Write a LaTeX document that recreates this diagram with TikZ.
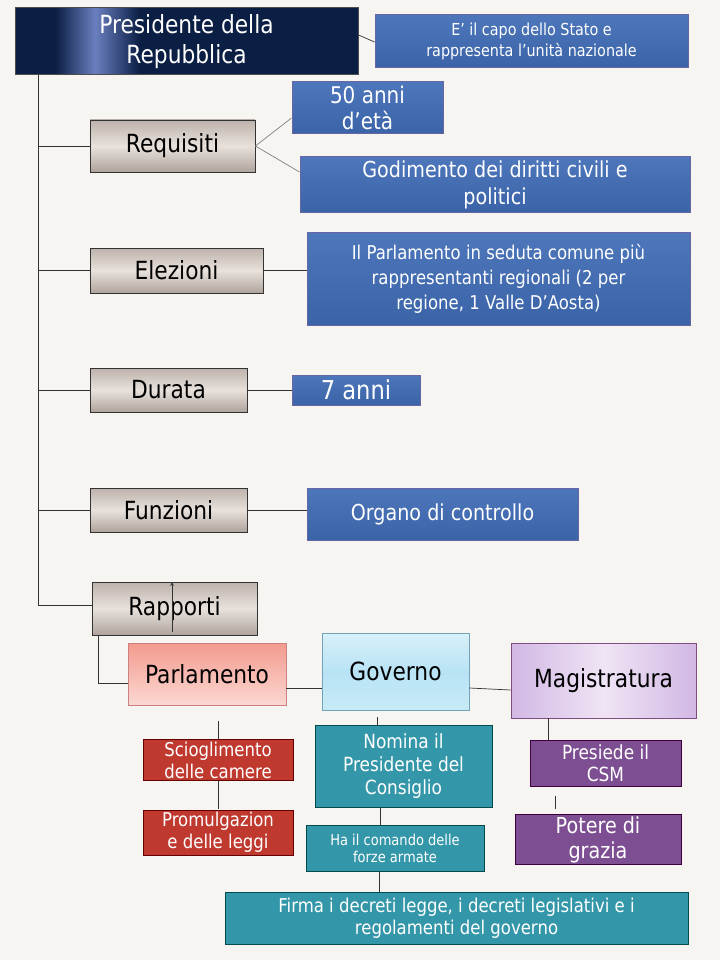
\documentclass[tikz,border=0pt]{standalone}
\usepackage{fontspec}
\setmainfont{DejaVu Sans}[FakeStretch=0.87]
\begin{document}
\begin{tikzpicture}[x=1pt,y=-1pt,
  bx/.style={draw, rectangle, align=center, inner sep=2pt},
  blue/.style={bx, draw=black!60!blue!60, line width=1pt, top color=bluetop, bottom color=bluebot, text=white},
  gray/.style={bx, draw=black!80, line width=0.8pt, top color=graytop, bottom color=graybot, middle color=graymid, text=black, font=\fontsize{25}{29}\selectfont},
  red/.style={bx, draw=red!40!black, line width=1pt, fill=redf, text=white, font=\fontsize{19}{22}\selectfont},
  teal/.style={bx, draw=teal!60!black, line width=1pt, fill=tealf, text=white},
  purp/.style={bx, draw=violet!50!black, line width=1pt, fill=purpf, text=white, font=\fontsize{19.5}{22}\selectfont},
  ln/.style={draw=black!80, line width=0.7pt}]
\definecolor{bluetop}{HTML}{4D76BB}\definecolor{bluebot}{HTML}{3A63A8}
\definecolor{graytop}{HTML}{BDB2AB}\definecolor{graymid}{HTML}{E8E1DC}\definecolor{graybot}{HTML}{AFA49C}
\definecolor{redf}{HTML}{C0392F}\definecolor{tealf}{HTML}{3497A9}\definecolor{purpf}{HTML}{7D4E92}
\definecolor{navy}{HTML}{0B1E44}\definecolor{navymid}{HTML}{6A7FC0}
\definecolor{partop}{HTML}{F39A8E}\definecolor{parbot}{HTML}{FBD8D2}
\definecolor{govtop}{HTML}{D8F0FA}\definecolor{govmid}{HTML}{B8E3F5}\definecolor{govbot}{HTML}{C8EAF7}
\definecolor{magside}{HTML}{D2B8E4}\definecolor{magmid}{HTML}{EFE4F5}
\fill[fill={rgb,255:red,247;green,245;blue,242}] (0,0) rectangle (720,960);
\useasboundingbox (0,0) rectangle (720,960);

\fill[navy] (15,8) rectangle (358,75);
\shade[left color=navy, right color=navymid] (55,8) rectangle (95,75);
\shade[left color=navymid, right color=navy] (95,8) rectangle (140,75);
\node[bx, draw=black!70, line width=1pt, text=white, minimum width=343, minimum height=67, font=\fontsize{25}{30}\selectfont] (pres) at (186.5,41.5) {Presidente della\\Repubblica};
\node[blue, minimum width=313, minimum height=53, font=\fontsize{16.5}{21}\selectfont] (capo) at (531.5,41.5) {E’ il capo dello Stato e\\rappresenta l’unità nazionale};
\draw[ln] (pres.east |- 0,35) -- (capo.west |- 0,42);

\node[gray, minimum width=165, minimum height=52] (req) at (172.5,146) {Requisiti};
\node[blue, minimum width=151, minimum height=52, font=\fontsize{23}{26}\selectfont] (eta) at (367.5,108) {50 anni\\d’età};
\node[blue, minimum width=390, minimum height=55, font=\fontsize{22}{27}\selectfont] (god) at (495,184.5) {Godimento dei diritti civili e\\politici};
\draw[draw=gray, line width=0.7pt] (req.east) -- (eta.west |- 0,118);
\draw[draw=gray, line width=0.7pt] (req.east) -- (god.west |- 0,172);

\node[gray, minimum width=173, minimum height=45] (ele) at (176.5,270.5) {Elezioni};
\node[blue, minimum width=383, minimum height=93, font=\fontsize{19}{25}\selectfont] (parl1) at (498.5,278.5) {Il Parlamento in seduta comune più\\rappresentanti regionali (2 per\\regione, 1 Valle D’Aosta)};
\draw[ln] (ele.east) -- (parl1.west |- ele.east);

\node[gray, minimum width=157, minimum height=44] (dur) at (168.5,390) {Durata};
\node[blue, minimum width=128, minimum height=30, font=\fontsize{26}{28}\selectfont] (sette) at (356,390) {7 anni};
\draw[ln] (dur.east) -- (sette.west);

\node[gray, minimum width=157, minimum height=44] (fun) at (168.5,510) {Funzioni};
\node[blue, minimum width=271, minimum height=52, font=\fontsize{22}{26}\selectfont] (org) at (442.5,514) {Organo di controllo};
\draw[ln] (fun.east) -- (org.west |- fun.east);

\node[gray, minimum width=165, minimum height=53] (rap) at (174.5,608.5) {Rapporti};
\draw[ln, ->, >=stealth] (172,632) -- (172,582);

\draw[ln] (pres.south -| 38,0) -- (38,605) -- (rap.west |- 0,605);
\draw[ln] (38,146) -- (req.west);
\draw[ln] (38,270.5) -- (ele.west);
\draw[ln] (38,390) -- (dur.west);
\draw[ln] (38,510) -- (fun.west);

\node[bx, draw=red!60!black!50, line width=0.8pt, top color=partop, bottom color=parbot, minimum width=158, minimum height=62, font=\fontsize{25}{29}\selectfont] (par) at (207,674) {Parlamento};
\node[bx, draw=cyan!40!gray, line width=0.8pt, top color=govtop, bottom color=govbot, middle color=govmid, minimum width=147, minimum height=77, font=\fontsize{25}{29}\selectfont] (gov) at (395.5,671.5) {Governo};
\node[bx, draw=violet!40!gray, line width=0.8pt, left color=magside, right color=magside, middle color=magmid, minimum width=185, minimum height=75, font=\fontsize{25}{29}\selectfont] (mag) at (603.5,680.5) {Magistratura};
\draw[ln] (rap.south -| 98,0) -- (98,683) -- (par.west |- 0,683);
\draw[ln] (par.east |- 0,688) -- (gov.west |- 0,688);
\draw[ln] (gov.east |- 0,688) -- (mag.west |- 0,690);

\draw[ln] (218,721) -- (218,809);
\node[red, minimum width=150, minimum height=40] (sci) at (218,760) {Scioglimento\\delle camere};
\node[red, minimum width=150, minimum height=45] (pro) at (218,832.5) {Promulgazion\\e delle leggi};

\node[teal, minimum width=177, minimum height=82, font=\fontsize{19.5}{23}\selectfont] (nom) at (403.5,766) {Nomina il\\Presidente del\\Consiglio};
\node[teal, minimum width=178, minimum height=46, font=\fontsize{15}{17}\selectfont] (com) at (395,848) {Ha il comando delle\\forze armate};
\node[teal, minimum width=463, minimum height=52, font=\fontsize{19}{22}\selectfont] (fir) at (456.5,918.5) {Firma i decreti legge, i decreti legislativi e i\\regolamenti del governo};
\draw[ln] (377,717) -- (nom.north -| 377,0);
\draw[ln] (nom.south -| 380,0) -- (com.north -| 380,0);
\draw[ln] (com.south -| 379,0) -- (fir.north -| 379,0);

\node[purp, minimum width=151, minimum height=46] (csm) at (605.5,763) {Presiede il\\CSM};
\node[purp, minimum width=166, minimum height=45, font=\fontsize{22}{25}\selectfont] (gra) at (598,839.5) {Potere di\\grazia};
\draw[ln] (mag.south -| 548,0) -- (csm.north -| 548,0);
\draw[ln] (555,796) -- (555,809);
\end{tikzpicture}
\end{document}
